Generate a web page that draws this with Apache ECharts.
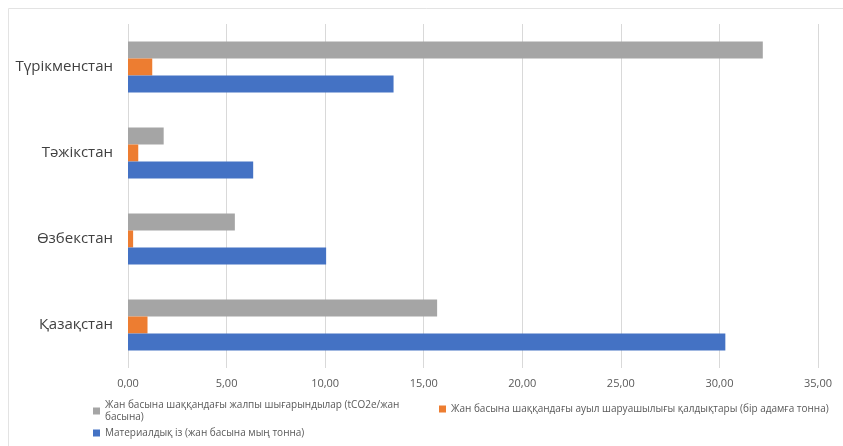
<!DOCTYPE html>
<html>
<head>
<meta charset="utf-8">
<script src="https://cdn.jsdelivr.net/npm/echarts@6/dist/echarts.min.js"></script>
<style>
  html, body { margin: 0; padding: 0; background: #fff; }
  #chart { width: 843px; height: 446px; }
</style>
</head>
<body>
<div id="chart"></div>
<script>
// Countries, listed bottom-to-top along the category axis
const countries = ['Қазақстан', 'Өзбекстан', 'Тәжікстан', 'Түрікменстан'];

// Series names
const nameMaterial = 'Материалдық із (жан басына мың тонна)';
const nameAgri = 'Жан басына шаққандағы ауыл шаруашылығы қалдықтары (бір адамға тонна)';
const nameEmissions = 'Жан басына шаққандағы жалпы шығарындылар (tCO2e/жан басына)';

// Values per country (same order as countries)
const materialFootprint = [30.30, 10.05, 6.35, 13.47];
const agriWaste = [0.99, 0.26, 0.52, 1.23];
const totalEmissions = [15.68, 5.42, 1.81, 32.20];

// Value axis tick labels
const tickLabels = ['0,00', '5,00', '10,00', '15,00', '20,00', '25,00', '30,00', '35,00'];

const font = '"Open Sans", "Noto Sans", sans-serif';

const chart = echarts.init(document.getElementById('chart'), null, { renderer: 'canvas' });

const legendText = { fontFamily: font, fontSize: 10, color: '#595959', lineHeight: 12 };

chart.setOption({
  animation: false,
  backgroundColor: '#ffffff',
  graphic: [{
    type: 'rect',
    shape: { x: 8.5, y: 8.5, width: 900, height: 500 },
    style: { fill: 'none', stroke: '#e3e3e3', lineWidth: 1 },
    silent: true
  }],
  grid: { left: 128, right: 25, top: 24, bottom: 78, containLabel: false },
  legend: [
    {
      data: [nameEmissions], left: 88, top: 394, itemWidth: 7, itemHeight: 7, itemGap: 0,
      icon: 'rect', textStyle: legendText,
      formatter: () => 'Жан басына шаққандағы жалпы шығарындылар (tCO2e/жан\nбасына)'
    },
    {
      data: [nameAgri], left: 434, top: 398, itemWidth: 7, itemHeight: 7,
      icon: 'rect', textStyle: legendText
    },
    {
      data: [nameMaterial], left: 88, top: 422, itemWidth: 7, itemHeight: 7,
      icon: 'rect', textStyle: legendText
    }
  ],
  xAxis: {
    type: 'value',
    min: 0, max: 35, interval: 5,
    axisLine: { show: false },
    axisTick: { show: false },
    splitLine: { show: true, lineStyle: { color: '#d9d9d9', width: 1 } },
    axisLabel: {
      fontFamily: font, fontSize: 11, color: '#595959', margin: 10,
      formatter: (v) => tickLabels[Math.round(v / 5)]
    }
  },
  yAxis: {
    type: 'category',
    data: countries,
    axisLine: { show: false },
    axisTick: { show: false },
    axisLabel: { fontFamily: font, fontSize: 15, color: '#404040', margin: 15 }
  },
  // Within each country group the first series sits on top
  series: [
    {
      name: nameEmissions, type: 'bar', data: totalEmissions,
      barWidth: 17, barGap: '0%', barCategoryGap: '41%',
      itemStyle: { color: '#a5a5a5' }
    },
    {
      name: nameAgri, type: 'bar', data: agriWaste,
      barWidth: 17, barGap: '0%',
      itemStyle: { color: '#ed7d31' }
    },
    {
      name: nameMaterial, type: 'bar', data: materialFootprint,
      barWidth: 17, barGap: '0%',
      itemStyle: { color: '#4472c4' }
    }
  ]
});
</script>
</body>
</html>
